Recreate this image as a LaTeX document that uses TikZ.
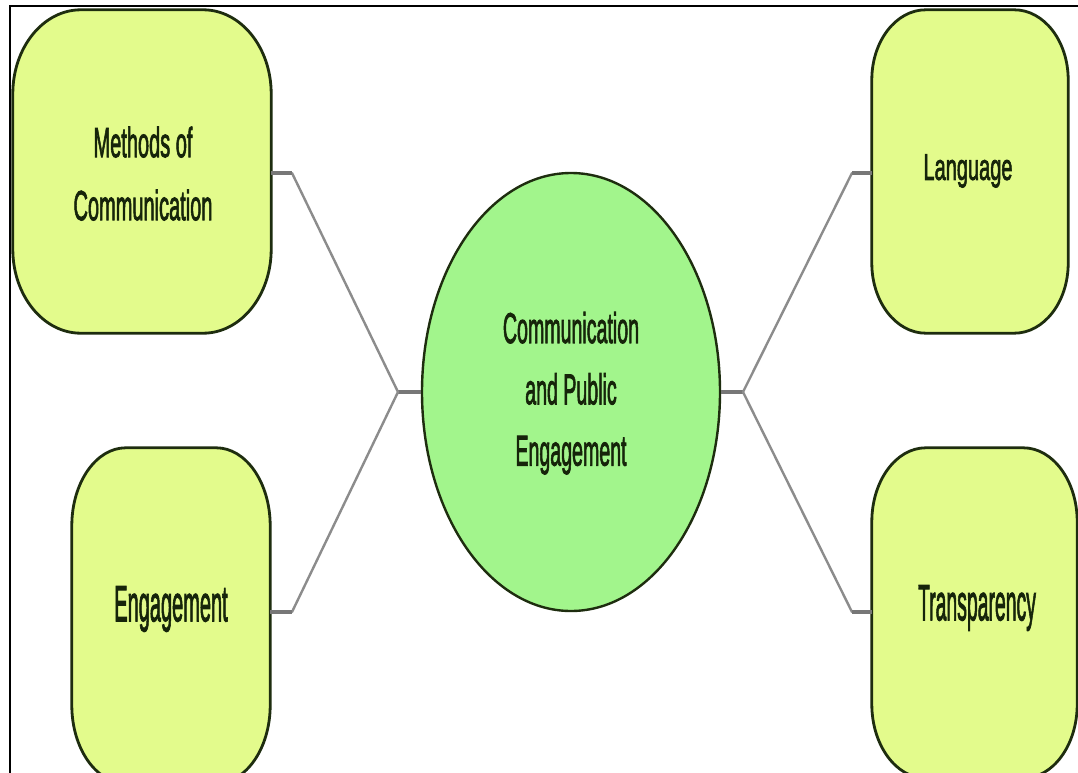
\documentclass[tikz,border=0pt]{standalone}
\usepackage{fontspec}
\usetikzlibrary{shapes.geometric}
\newfontfamily\lblfont{Liberation Sans}[FakeBold=2.5]
\definecolor{boxfill}{HTML}{E3FB8C}
\definecolor{hubfill}{HTML}{A2F58C}
\definecolor{edge}{HTML}{1E2D0F}
\definecolor{ink}{HTML}{16240A}
\definecolor{wire}{HTML}{8C8C8C}
\definecolor{wiredark}{HTML}{777777}
\pgfdeclarelayer{back}
\pgfsetlayers{back,main}
% soft box outline with elliptical corners: name, x radius, y radius
\newcommand\softbox[3]{%
  \begin{pgfonlayer}{back}
  \draw[boxline] ([xshift=#2pt]#1.north west) -- ([xshift=-#2pt]#1.north east)
    arc[start angle=90, end angle=0, x radius=#2pt, y radius=#3pt]
    -- ([yshift=#3pt]#1.south east)
    arc[start angle=0, end angle=-90, x radius=#2pt, y radius=#3pt]
    -- ([xshift=#2pt]#1.south west)
    arc[start angle=270, end angle=180, x radius=#2pt, y radius=#3pt]
    -- ([yshift=-#3pt]#1.north west)
    arc[start angle=180, end angle=90, x radius=#2pt, y radius=#3pt]
    -- cycle;
  \end{pgfonlayer}}
% tall, narrow label text
\newcommand\lbl[4]{\scalebox{#1}[#2]{\fontsize{20}{#3}\selectfont
  \begin{tabular}{@{}c@{}}#4\end{tabular}}}
\begin{document}
\begin{tikzpicture}[x=1pt,y=-1pt,
  boxline/.style={draw=edge, line width=2.8pt, fill=boxfill},
  boxgeom/.style={rectangle, draw=none, inner sep=0pt},
  lbltext/.style={inner sep=0pt, text=ink, font=\lblfont},
  link/.style={draw=wire, line width=2.4pt, line cap=round},
  stub/.style={draw=wiredark, line width=4.5pt},
  hub/.style={ellipse, draw=edge, line width=2.4pt, fill=hubfill,
    minimum width=298pt, minimum height=438pt, inner sep=0pt,
    text=ink, font=\lblfont}]
\useasboundingbox (0,0) rectangle (1078,773);
\begin{pgfonlayer}{back}
\fill[white] (0,0) rectangle (1078,773);
\end{pgfonlayer}

% outer boxes
\node[boxgeom, minimum width=258pt, minimum height=323pt] (m) at (142,171.5) {};
\node[boxgeom, minimum width=196pt, minimum height=323pt] (l) at (970,171.5) {};
\node[boxgeom, minimum width=198pt, minimum height=335pt] (e) at (171,615.5) {};
\node[boxgeom, minimum width=205pt, minimum height=330pt] (t) at (974.5,613) {};
\softbox{m}{68}{84}
\softbox{l}{54}{70}
\softbox{e}{54}{78}
\softbox{t}{54}{74}

% labels
\node[lbltext] (mt) at (143,176) {\lbl{1.0}{2.1}{30}{Methods of\\Communication}};
\node[lbltext] (lt) at (968,171) {\lbl{1.0}{1.85}{24}{Language}};
\node[lbltext] (et) at (171,609) {\lbl{1.0}{2.55}{24}{Engagement}};
\node[lbltext] (tt) at (977,608) {\lbl{0.97}{2.55}{24}{Transparency}};

% central topic
\node[hub] (c) at (571,392) {\lbl{0.98}{2.15}{28.5}{Communication\\and Public\\Engagement}};

% branch points
\coordinate (jl) at (398,392);
\coordinate (jr) at (743,392);
\coordinate (bm) at (292,173);
\coordinate (be) at (292,612);
\coordinate (bl) at (852,173);
\coordinate (bt) at (852,612);

% connectors
\draw[stub] (c.west) -- (jl);
\draw[stub] (c.east) -- (jr);
\draw[link] (jl) -- (bm);
\draw[link] (jl) -- (be);
\draw[link] (jr) -- (bl);
\draw[link] (jr) -- (bt);
\draw[stub] (bm) -- (bm -| m.east);
\draw[stub] (be) -- (be -| e.east);
\draw[stub] (bl) -- (bl -| l.west);
\draw[stub] (bt) -- (bt -| t.west);

% frame
\draw[black, line width=2pt] (10,773) -- (10,6) -- (1078,6);
\end{tikzpicture}
\end{document}
